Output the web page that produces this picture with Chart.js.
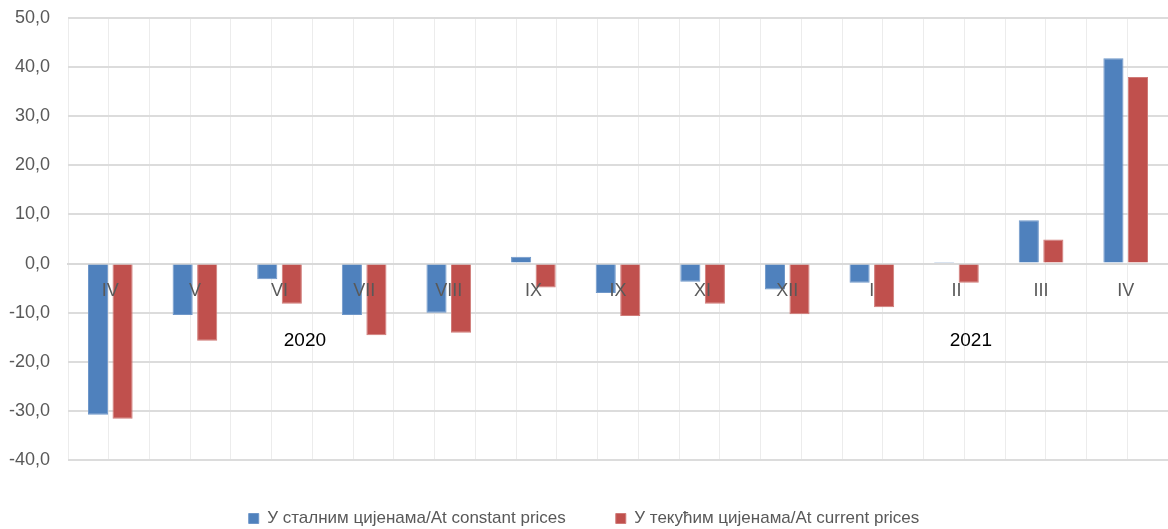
<!DOCTYPE html>
<html>
<head>
<meta charset="utf-8">
<script src="https://cdn.jsdelivr.net/npm/chart.js@4"></script>
<style>
  html, body { margin: 0; padding: 0; background: #fff; }
  #wrap { width: 1168px; height: 529px; }
</style>
</head>
<body>
<div id="wrap"><canvas id="chart" width="1168" height="529"></canvas></div>
<script>
const months = ["IV", "V", "VI", "VII", "VIII", "IX", "IX", "XI", "XII", "I", "II", "III", "IV"];
const constantPrices = [-30.8, -10.5, -3.2, -10.5, -10.0, 1.4, -6.0, -3.7, -5.3, -3.9, 0.1, 8.8, 41.8];
const currentPrices = [-31.6, -15.7, -8.2, -14.6, -14.1, -4.9, -10.7, -8.2, -10.3, -8.9, -3.9, 4.9, 38.0];
const seriesNames = ["У сталним цијенама/At constant prices", "У текућим цијенама/At current prices"];
const yearLabels = ["2020", "2021"];
const yearAt = [2.3, 10.17];
const yearLevel = -15.7;

const narrow = "'Liberation Sans Narrow', 'Arial Narrow', 'Liberation Sans', Arial, sans-serif";

const yearPlugin = {
  id: "years",
  afterDraw(chart) {
    const { ctx, scales } = chart;
    ctx.save();
    ctx.font = "19px 'Liberation Sans', Arial, sans-serif";
    ctx.fillStyle = "#000";
    ctx.textAlign = "center";
    ctx.textBaseline = "middle";
    yearLabels.forEach((t, i) => {
      ctx.fillText(t, scales.x.getPixelForValue(yearAt[i]), scales.y.getPixelForValue(yearLevel));
    });
    ctx.restore();
  },
};

new Chart(document.getElementById("chart"), {
  type: "bar",
  data: {
    labels: months,
    datasets: [
      {
        label: seriesNames[0],
        data: constantPrices,
        backgroundColor: "#4f81bd",
        borderColor: "#6f97c9",
        borderWidth: 1,
        categoryPercentage: 0.58,
        barPercentage: 0.82,
      },
      {
        label: seriesNames[1],
        data: currentPrices,
        backgroundColor: "#c0504d",
        borderColor: "#d07b78",
        borderWidth: 1,
        categoryPercentage: 0.58,
        barPercentage: 0.82,
      },
    ],
  },
  options: {
    responsive: false,
    animation: false,
    layout: { padding: { top: 18, right: 0, left: 0, bottom: -8 } },
    plugins: {
      legend: {
        position: "bottom",
        labels: {
          color: "#595959",
          font: { family: narrow, size: 17 },
          boxWidth: 10,
          boxHeight: 10,
          padding: 50,
        },
      },
      tooltip: { enabled: false },
    },
    scales: {
      x: {
        position: { y: 0 },
        grid: { display: false, drawTicks: false },
        border: { display: true, color: "#d9d9d9", width: 2 },
        afterFit(scale) { scale.paddingTop = 0; scale.paddingBottom = 0; },
        ticks: {
          z: 1,
          color: "#595959",
          font: { family: narrow, size: 18 },
          padding: 17,
          maxRotation: 0,
          autoSkip: false,
        },
      },
      x2: {
        type: "linear",
        position: "bottom",
        min: 0,
        max: 26,
        grid: { color: "#ececec", lineWidth: 1, drawTicks: false },
        border: { display: false },
        ticks: { display: false, stepSize: 1 },
      },
      y: {
        min: -40,
        max: 50,
        afterFit(scale) {
          scale.width = 68;
          scale.paddingTop = 0;
          scale.paddingBottom = 0;
        },
        grid: { color: "#dcdcdc", lineWidth: 2, drawTicks: false },
        border: { display: false },
        ticks: {
          stepSize: 10,
          color: "#595959",
          font: { family: narrow, size: 18 },
          padding: 18,
          callback: (v) => v.toFixed(1).replace(".", ","),
        },
      },
    },
  },
  plugins: [yearPlugin],
});
</script>
</body>
</html>
